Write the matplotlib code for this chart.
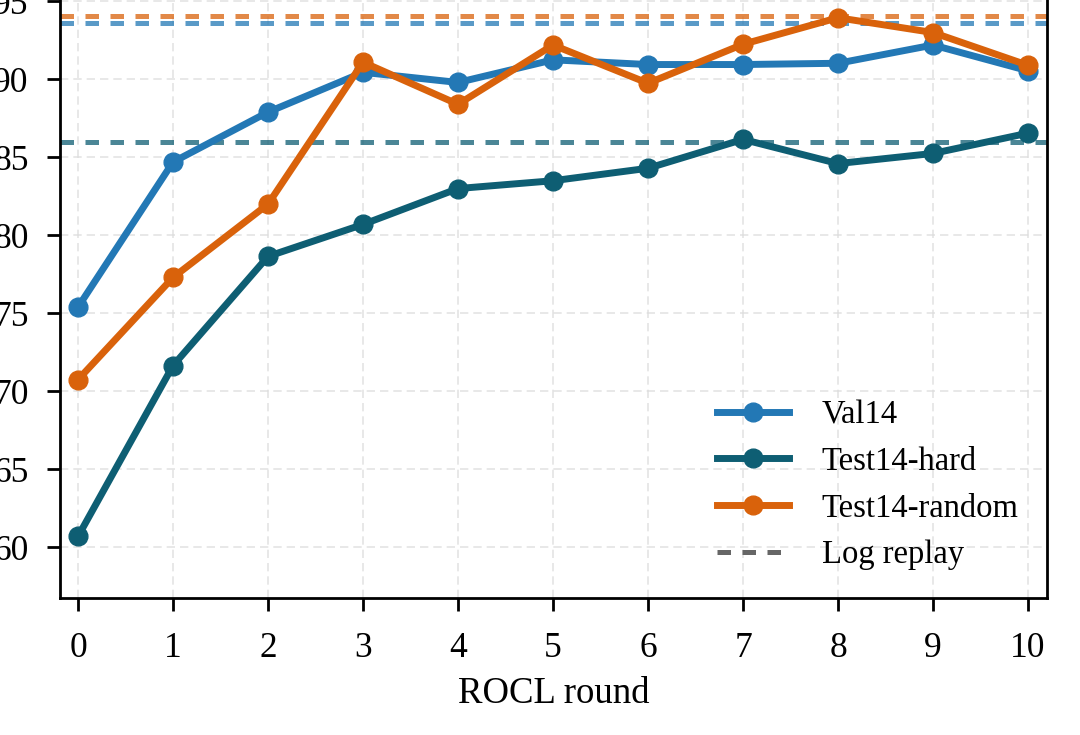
import matplotlib
matplotlib.use("Agg")
import matplotlib.pyplot as plt
from matplotlib.lines import Line2D

rounds = list(range(11))
val14 = [75.4, 84.7, 87.9, 90.45, 89.8, 91.25, 90.95, 90.95, 91.03, 92.2, 90.55]
test14_hard = [60.7, 71.65, 78.65, 80.7, 83.0, 83.5, 84.3, 86.15, 84.6, 85.25, 86.55]
test14_random = [70.75, 77.3, 82.0, 91.1, 88.4, 92.2, 89.75, 92.25, 93.95, 93.0, 90.9]
log_replay = {"val14": 93.6, "hard": 86.0, "random": 94.05}
yticks = [60, 65, 70, 75, 80, 85, 90, 95]

c_val = "#2378b5"
c_hard = "#0e5e73"
c_rand = "#d9620b"

plt.rcParams["font.family"] = ["Liberation Serif", "DejaVu Serif"]

fig = plt.figure(figsize=(10.8, 7.35), dpi=100)
ax = fig.add_axes([60 / 1080, 137 / 735, 987 / 1080, 1.03 - 137 / 735])

dash = (0, (2.7, 2.3))
ax.axhline(log_replay["random"], color=c_rand, ls=dash, lw=3.6, alpha=0.75, zorder=1)
ax.axhline(log_replay["val14"], color=c_val, ls=dash, lw=3.6, alpha=0.75, zorder=1)
ax.axhline(log_replay["hard"], color=c_hard, ls=dash, lw=3.6, alpha=0.75, zorder=1)

lw = 5.0
ms = 13.5
ax.plot(rounds, val14, color=c_val, lw=lw, marker="o", ms=ms, zorder=3)
ax.plot(rounds, test14_hard, color=c_hard, lw=lw, marker="o", ms=ms, zorder=3)
ax.plot(rounds, test14_random, color=c_rand, lw=lw, marker="o", ms=ms, zorder=4)

ax.set_xlim(-0.19, 10.2)
ax.set_ylim(56.75, 96.5)
ax.set_xticks(rounds)
ax.set_yticks(yticks)
ax.grid(True, color="#dddddd", ls=(0, (5, 3)), lw=1.2, alpha=0.8)
ax.set_axisbelow(True)
ax.tick_params(labelsize=25.5, length=9.5, width=2, direction="out")
ax.tick_params(axis="x", pad=15)
ax.tick_params(axis="y", pad=13)
for s in ax.spines.values():
    s.set_linewidth(2)
ax.set_xlabel("ROCL round", fontsize=26.5, labelpad=8)

handles = [
    Line2D([], [], color=c_val, lw=lw, marker="o", ms=ms),
    Line2D([], [], color=c_hard, lw=lw, marker="o", ms=ms),
    Line2D([], [], color=c_rand, lw=lw, marker="o", ms=ms),
    Line2D([], [], color="#666666", lw=3.6, ls=dash),
]
labels = ["Val14", "Test14-hard", "Test14-random", "Log replay"]
ax.legend(handles, labels, loc="lower right", bbox_to_anchor=(1.001, -0.003), frameon=False,
          fontsize=23.5, handlelength=2.2, handletextpad=1.0, labelspacing=0.5)

fig.savefig("out.png", dpi=100)
